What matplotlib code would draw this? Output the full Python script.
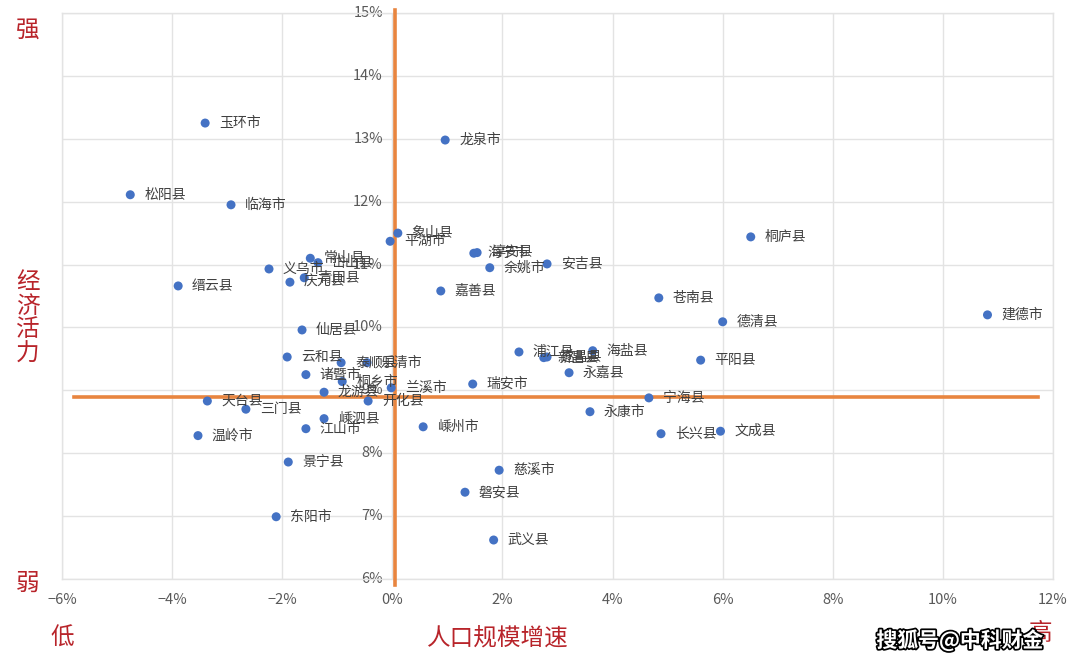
import matplotlib
matplotlib.use("Agg")
import matplotlib.pyplot as plt
import matplotlib.patheffects as pe

plt.rcParams['font.family'] = ['Noto Sans CJK SC', 'DejaVu Sans']

names = ["玉环市", "龙泉市", "松阳县", "临海市", "象山县", "平湖市", "桐庐县",
         "常山县", "岱山县", "义乌市", "青田县", "庆元县", "缙云县", "海宁市",
         "淳安县", "余姚市", "安吉县", "嘉善县", "苍南县", "德清县", "建德市",
         "仙居县", "云和县", "泰顺县", "乐清市", "诸暨市", "桐乡市", "龙游县",
         "兰溪市", "开化县", "天台县", "三门县", "嵊泗县", "江山市", "温岭市",
         "景宁县", "东阳市", "嵊州市", "瑞安市", "浦江县", "新昌县", "遂昌县",
         "海盐县", "永嘉县", "平阳县", "宁海县", "永康市", "长兴县", "文成县",
         "慈溪市", "磐安县", "武义县"]
pop_growth = [-3.40, 0.96, -4.76, -2.93, 0.10, -0.04, 6.51,
              -1.49, -1.35, -2.24, -1.60, -1.86, -3.89, 1.48,
              1.54, 1.77, 2.81, 0.88, 4.84, 6.00, 10.81,
              -1.64, -1.91, -0.93, -0.46, -1.57, -0.91, -1.24,
              -0.02, -0.44, -3.36, -2.66, -1.24, -1.57, -3.53,
              -1.89, -2.11, 0.56, 1.46, 2.30, 2.75, 2.81,
              3.64, 3.21, 5.60, 4.66, 3.59, 4.88, 5.96,
              1.94, 1.32, 1.84]
econ_vitality = [13.25, 12.98, 12.11, 11.95, 11.50, 11.37, 11.44,
                 11.10, 11.03, 10.93, 10.79, 10.72, 10.66, 11.18,
                 11.19, 10.95, 11.01, 10.58, 10.47, 10.09, 10.20,
                 9.96, 9.53, 9.44, 9.44, 9.25, 9.14, 8.97,
                 9.04, 8.83, 8.83, 8.70, 8.55, 8.39, 8.28,
                 7.86, 6.99, 8.42, 9.10, 9.61, 9.52, 9.53,
                 9.63, 9.28, 9.48, 8.88, 8.66, 8.31, 8.35,
                 7.73, 7.38, 6.62]

x_ticks = [-6, -4, -2, 0, 2, 4, 6, 8, 10, 12]
y_ticks = [6, 7, 8, 9, 10, 11, 12, 13, 14, 15]
avg_x = 0.05
avg_y = 8.9

red = "#B8242A"
orange = "#E8853F"
blue = "#4472C4"
gray_txt = "#595959"

fig = plt.figure(figsize=(10.8, 6.67), dpi=100)
ax = fig.add_axes([62/1080, 1-579/667, (1053-62)/1080, (579-13)/667])

ax.set_xlim(-6, 12)
ax.set_ylim(6, 15)
ax.set_xticks(x_ticks)
ax.set_xticklabels([f"{t}%" if t >= 0 else f"\u2212{-t}%" for t in x_ticks],
                   color=gray_txt, fontsize=10.5)
ax.set_yticks(y_ticks)
ax.set_yticklabels([])
ax.tick_params(axis='both', length=0)
ax.tick_params(axis='x', pad=10)
ax.grid(True, color="#E3E3E3", linewidth=1)
ax.set_axisbelow(True)
for s in ax.spines.values():
    s.set_color("#E3E3E3")
    s.set_linewidth(1)

# y tick labels near the zero axis
for t in y_ticks:
    ax.text(-0.17, t, f"{t}%", ha='right', va='center', color=gray_txt,
            fontsize=10.5, zorder=2)

# average lines
ax.plot([avg_x, avg_x], [5.9, 15.05], color=orange, linewidth=2.6,
        clip_on=False, zorder=3)
ax.plot([-5.78, 11.72], [avg_y, avg_y], color=orange, linewidth=2.6,
        clip_on=False, zorder=3)

ax.scatter(pop_growth, econ_vitality, s=42, color=blue, zorder=4,
           edgecolors='none')
for n, x, y in zip(names, pop_growth, econ_vitality):
    ax.annotate(n, (x, y), xytext=(10, 0), textcoords='offset points',
                ha='left', va='center', fontsize=10, color="#404040",
                zorder=5)

# red annotation labels
fig.text(28/1080, 1-30/667, "强", color=red, fontsize=17, ha='center', va='center')
fig.text(28/1080, 1-583/667, "弱", color=red, fontsize=17, ha='center', va='center')
fig.text(28/1080, 1-318/667, "经\n济\n活\n力", color=red, fontsize=17,
         ha='center', va='center', linespacing=1.05)
fig.text(62/1080, 1-638/667, "低", color=red, fontsize=17, ha='center', va='center')
fig.text(498/1080, 1-638/667, "人口规模增速", color=red, fontsize=17,
         ha='center', va='center')
fig.text(1040/1080, 1-634/667, "高", color=red, fontsize=17, ha='center', va='center')
fig.text(960/1080, 1-640/667, "搜狐号@中科财金", color="white", fontsize=15,
         ha='center', va='center', fontweight='bold',
         path_effects=[pe.withStroke(linewidth=2.5, foreground="black")])

fig.savefig("out.png", dpi=100)
